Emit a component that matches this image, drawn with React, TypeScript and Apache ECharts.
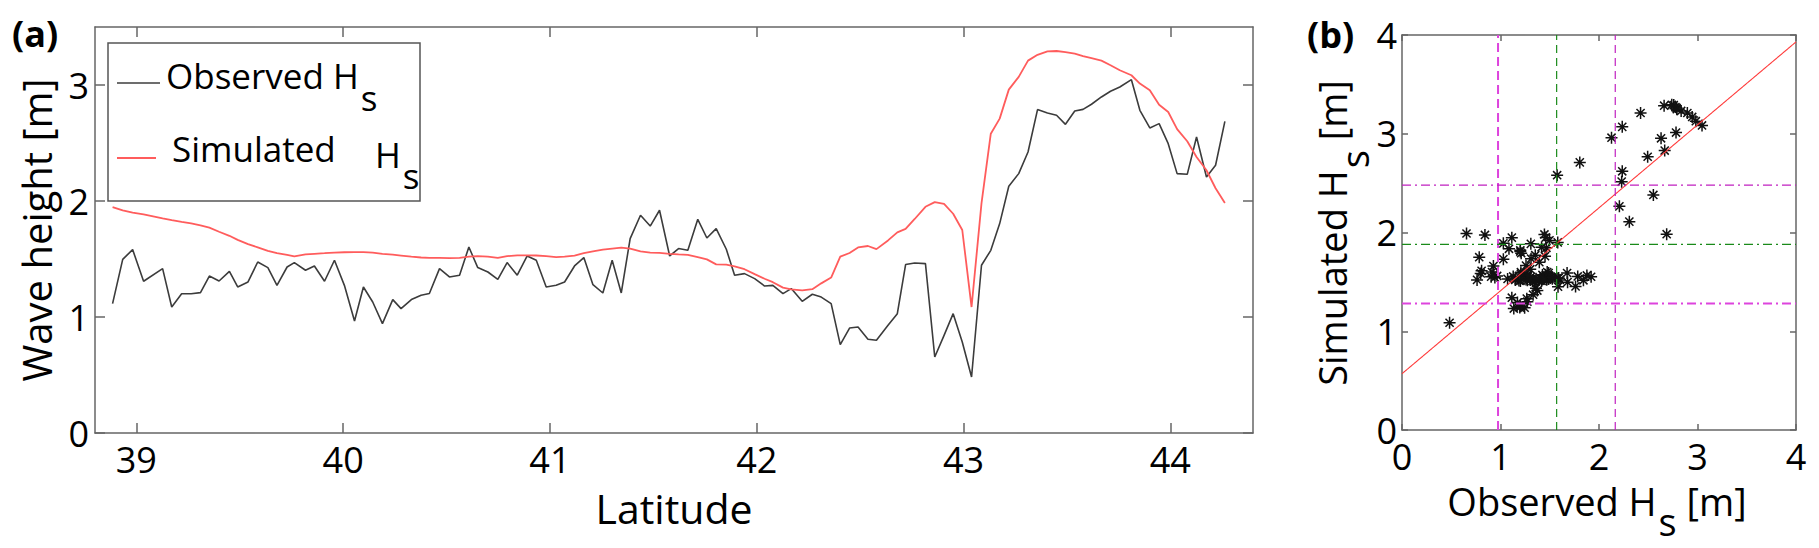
import React, { useEffect, useRef } from 'react';
import * as echarts from 'echarts';

// ---- data ----
const LATITUDE = [
  38.885, 38.934, 38.982, 39.035, 39.127, 39.171, 39.219, 39.265, 39.31, 39.353, 39.4, 39.45, 39.49, 39.54, 39.587, 39.636, 39.68, 39.729, 39.764,
  39.818, 39.861, 39.91, 39.958, 40.006, 40.055, 40.098, 40.143, 40.19, 40.24, 40.28, 40.33, 40.377, 40.417, 40.466, 40.514, 40.563, 40.608, 40.651, 40.7,
  40.748, 40.793, 40.842, 40.89, 40.934, 40.982, 41.03, 41.071, 41.119, 41.164, 41.208, 41.256, 41.301, 41.345, 41.388, 41.438, 41.485, 41.53, 41.579, 41.622,
  41.667, 41.715, 41.759, 41.804, 41.853, 41.893, 41.941, 41.99, 42.038, 42.078, 42.127, 42.167, 42.22, 42.269, 42.312, 42.36, 42.404, 42.449, 42.49, 42.538, 42.579,
  42.635, 42.68, 42.72, 42.764, 42.816, 42.861, 42.906, 42.95, 42.994, 43.039, 43.087, 43.132, 43.175, 43.219, 43.267, 43.312, 43.358, 43.406, 43.45, 43.493, 43.538,
  43.578, 43.619, 43.667, 43.711, 43.756, 43.812, 43.853, 43.901, 43.946, 43.99, 44.033, 44.082, 44.127, 44.175, 44.219, 44.264,
];

const OBSERVED_HS = [
  1.115, 1.497, 1.581, 1.308, 1.417, 1.086, 1.201, 1.201, 1.21, 1.353, 1.31, 1.394, 1.259, 1.302, 1.474, 1.426, 1.273, 1.431, 1.469,
  1.403, 1.44, 1.308, 1.489, 1.273, 0.966, 1.259, 1.129, 0.943, 1.15, 1.072, 1.15, 1.187, 1.202, 1.417, 1.345, 1.36, 1.603, 1.426, 1.388,
  1.325, 1.469, 1.36, 1.526, 1.489, 1.259, 1.273, 1.302, 1.44, 1.512, 1.279, 1.207, 1.489, 1.207, 1.676, 1.877, 1.784, 1.92, 1.526, 1.59,
  1.575, 1.842, 1.681, 1.762, 1.584, 1.36, 1.374, 1.331, 1.267, 1.273, 1.202, 1.245, 1.135, 1.196, 1.172, 1.115, 0.762, 0.905, 0.914, 0.808, 0.799,
  0.928, 1.029, 1.452, 1.466, 1.46, 0.655, 0.842, 1.029, 0.784, 0.483, 1.446, 1.575, 1.805, 2.127, 2.236, 2.422, 2.788, 2.759, 2.739, 2.661, 2.776,
  2.79, 2.834, 2.897, 2.946, 2.983, 3.046, 2.782, 2.63, 2.667, 2.494, 2.236, 2.23, 2.552, 2.207, 2.308, 2.687,
];

const SIMULATED_HS = [
  1.948, 1.92, 1.9, 1.885, 1.85, 1.835, 1.82, 1.807, 1.79, 1.77, 1.735, 1.7, 1.665, 1.628, 1.6, 1.57, 1.55, 1.535, 1.523,
  1.54, 1.545, 1.55, 1.555, 1.558, 1.56, 1.56, 1.555, 1.545, 1.538, 1.53, 1.52, 1.513, 1.51, 1.509, 1.508, 1.51, 1.52, 1.525, 1.52,
  1.51, 1.525, 1.532, 1.532, 1.53, 1.525, 1.517, 1.52, 1.53, 1.55, 1.565, 1.58, 1.59, 1.598, 1.59, 1.565, 1.555, 1.552, 1.545, 1.54,
  1.535, 1.516, 1.497, 1.454, 1.451, 1.436, 1.412, 1.37, 1.33, 1.3, 1.253, 1.238, 1.23, 1.24, 1.29, 1.34, 1.52, 1.552, 1.6, 1.612, 1.585,
  1.66, 1.73, 1.76, 1.845, 1.95, 1.99, 1.975, 1.89, 1.75, 1.086, 1.98, 2.58, 2.71, 2.96, 3.07, 3.21, 3.26, 3.29, 3.293, 3.284, 3.27,
  3.248, 3.231, 3.21, 3.17, 3.127, 3.084, 3.012, 2.954, 2.83, 2.767, 2.62, 2.515, 2.38, 2.265, 2.11, 1.983,
];

const LAT_TICKS = [39, 40, 41, 42, 43, 44];
const HEIGHT_TICKS = [0, 1, 2, 3];
const SCATTER_TICKS = [0, 1, 2, 3, 4];

const OBS_MEAN = 1.57;
const OBS_STD = 0.595;
const SIM_MEAN = 1.88;
const SIM_STD = 0.6;
const FIT_INTERCEPT = 0.57;
const FIT_SLOPE = 0.84;

// ---- styles ----
const FONT = '"Open Sans", "Noto Sans", sans-serif';
const AXIS_COLOR = '#666666';
const TICK_FS = 36;
const TITLE_FS = 38;
const LEGEND_FS = 35;
const ASTERISK = 'path://M5,0L5,10M0,5L10,5M1.6,1.6L8.4,8.4M1.6,8.4L8.4,1.6';

function measure(text: string, size: number, weight = 'normal'): number {
  const c = document.createElement('canvas');
  const ctx = c.getContext('2d');
  if (!ctx) return text.length * size * 0.55;
  ctx.font = `${weight} ${size}px "Open Sans"`;
  return ctx.measureText(text).width;
}

function txtStyle(text: string, size: number, weight = 'normal') {
  return {
    text,
    fontSize: size,
    fontWeight: weight,
    fontFamily: FONT,
    fill: '#000',
    lineHeight: size,
    align: 'left',
    textAlign: 'left',
    verticalAlign: 'middle',
    textVerticalAlign: 'middle',
  };
}

function subLabel(o: {
  x: number; y: number; main: string; sub: string; rest?: string;
  size: number; anchor: 'center' | 'left'; rotation?: number; subDy: number;
}) {
  const wMain = measure(o.main, o.size);
  const wSub = measure(o.sub, o.size);
  const wRest = o.rest ? measure(o.rest, o.size) : 0;
  const total = wMain + 2 + wSub + wRest;
  const x0 = o.anchor === 'center' ? -total / 2 : 0;
  const children: any[] = [
    { type: 'text', z: 100, x: x0, y: 0, style: txtStyle(o.main, o.size) },
    { type: 'text', z: 100, x: x0 + wMain + 2, y: o.subDy, style: txtStyle(o.sub, o.size) },
  ];
  if (o.rest) {
    children.push({ type: 'text', z: 100, x: x0 + wMain + 2 + wSub, y: 0, style: txtStyle(o.rest, o.size) });
  }
  return { type: 'group', x: o.x, y: o.y, rotation: o.rotation || 0, children, z: 100 };
}

function boxAxis(base: any, extra: any) {
  return Object.assign(
    {
      type: 'value',
      splitLine: { show: false },
      axisLine: { show: true, onZero: false, lineStyle: { color: AXIS_COLOR, width: 1.5 } },
    },
    base,
    extra
  );
}

export default function App() {
  const ref = useRef<HTMLDivElement>(null);

  useEffect(() => {
    document.body.style.margin = '0';
    if (!ref.current) return;
    const chart = echarts.init(ref.current, undefined, { renderer: 'svg' });

    const lineData = LATITUDE.map((lat, i) => [lat, OBSERVED_HS[i]]);
    const simData = LATITUDE.map((lat, i) => [lat, SIMULATED_HS[i]]);
    const scatterData = OBSERVED_HS.map((o, i) => [o, SIMULATED_HS[i]]);

    const tickLabel = { fontSize: TICK_FS, fontFamily: FONT, color: '#000', lineHeight: TICK_FS };
    const tickA = { show: true, inside: true, length: 10, lineStyle: { color: AXIS_COLOR, width: 1.5 } };
    const tickB = { show: true, inside: true, length: 6, lineStyle: { color: AXIS_COLOR, width: 1.5 } };

    const refLine = (pts: number[][], color: string, width: number, dash: number[]) => ({
      type: 'line',
      xAxisIndex: 2,
      yAxisIndex: 2,
      data: pts,
      symbol: 'none',
      silent: true,
      lineStyle: { color, width, type: dash },
      z: 4,
    });

    const option: any = {
      animation: false,
      backgroundColor: '#ffffff',
      grid: [
        { left: 95, top: 27, width: 1158, height: 406 },
        { left: 1402, top: 35, width: 394, height: 395 },
      ],
      xAxis: [
        boxAxis({ gridIndex: 0, min: 38.8, max: 44.4, position: 'bottom' }, {
          axisTick: { ...tickA, customValues: LAT_TICKS },
          axisLabel: { ...tickLabel, customValues: LAT_TICKS, margin: 8 },
        }),
        boxAxis({ gridIndex: 0, min: 38.8, max: 44.4, position: 'top' }, {
          axisTick: { ...tickA, customValues: LAT_TICKS },
          axisLabel: { show: false },
        }),
        boxAxis({ gridIndex: 1, min: 0, max: 4, interval: 1, position: 'bottom' }, {
          axisTick: { ...tickB, customValues: SCATTER_TICKS },
          axisLabel: { ...tickLabel, customValues: SCATTER_TICKS, margin: 8 },
        }),
        boxAxis({ gridIndex: 1, min: 0, max: 4, interval: 1, position: 'top' }, {
          axisTick: { ...tickB, customValues: SCATTER_TICKS },
          axisLabel: { show: false },
        }),
      ],
      yAxis: [
        boxAxis({ gridIndex: 0, min: 0, max: 3.5, position: 'left' }, {
          axisTick: { ...tickA, customValues: HEIGHT_TICKS },
          axisLabel: { ...tickLabel, customValues: HEIGHT_TICKS, margin: 6 },
        }),
        boxAxis({ gridIndex: 0, min: 0, max: 3.5, position: 'right' }, {
          axisTick: { ...tickA, customValues: HEIGHT_TICKS },
          axisLabel: { show: false },
        }),
        boxAxis({ gridIndex: 1, min: 0, max: 4, interval: 1, position: 'left' }, {
          axisTick: { ...tickB, customValues: SCATTER_TICKS },
          axisLabel: { ...tickLabel, customValues: SCATTER_TICKS, margin: 5 },
        }),
        boxAxis({ gridIndex: 1, min: 0, max: 4, interval: 1, position: 'right' }, {
          axisTick: { ...tickB, customValues: SCATTER_TICKS },
          axisLabel: { show: false },
        }),
      ],
      series: [
        {
          type: 'line', name: 'Observed Hs', xAxisIndex: 0, yAxisIndex: 0, data: lineData,
          symbol: 'none', showSymbol: false, lineStyle: { color: '#3c3c3c', width: 1.6 }, z: 3,
        },
        {
          type: 'line', name: 'Simulated Hs', xAxisIndex: 0, yAxisIndex: 0, data: simData,
          symbol: 'none', showSymbol: false, lineStyle: { color: '#ff5c5c', width: 1.8 }, z: 3,
        },
        {
          type: 'scatter', name: 'pairs', xAxisIndex: 2, yAxisIndex: 2, data: scatterData,
          symbol: ASTERISK, symbolSize: 12,
          itemStyle: { color: '#111', borderColor: '#111', borderWidth: 1.5, opacity: 1 }, z: 3,
        },
        refLine([[0, FIT_INTERCEPT], [4, FIT_INTERCEPT + 4 * FIT_SLOPE]], '#ff3a3a', 1.1, [1, 0]),
        refLine([[OBS_MEAN - OBS_STD, 0], [OBS_MEAN - OBS_STD, 4]], '#dd44dd', 2, [9, 5]),
        refLine([[OBS_MEAN, 0], [OBS_MEAN, 4]], '#1a8a1a', 1.2, [8, 5]),
        refLine([[OBS_MEAN + OBS_STD, 0], [OBS_MEAN + OBS_STD, 4]], '#c020c0', 1.2, [8, 5]),
        refLine([[0, SIM_MEAN + SIM_STD], [4, SIM_MEAN + SIM_STD]], '#c020c0', 1.2, [9, 4, 2, 4]),
        refLine([[0, SIM_MEAN], [4, SIM_MEAN]], '#1a8a1a', 1.2, [9, 4, 2, 4]),
        refLine([[0, SIM_MEAN - SIM_STD], [4, SIM_MEAN - SIM_STD]], '#dd44dd', 2, [9, 4, 2, 4]),
      ],
      graphic: [
        // panel labels
        { type: 'text', x: 12, y: 33, z: 100, style: txtStyle('(a)', 36, 'bold') },
        { type: 'text', x: 1307, y: 34, z: 100, style: txtStyle('(b)', 36, 'bold') },
        // axis titles
        {
          type: 'text', x: 674, y: 508, z: 100,
          style: { ...txtStyle('Latitude', 41), align: 'center', textAlign: 'center' },
        },
        {
          type: 'text', x: 36, y: 230, rotation: Math.PI / 2, z: 100,
          style: { ...txtStyle('Wave height [m]', 40), align: 'center', textAlign: 'center' },
        },
        subLabel({ x: 1597, y: 501, main: 'Observed H', sub: 's', rest: ' [m]', size: TITLE_FS, anchor: 'center', subDy: 20 }),
        subLabel({ x: 1332, y: 233, main: 'Simulated H', sub: 's', rest: ' [m]', size: TITLE_FS, anchor: 'center', subDy: 22, rotation: Math.PI / 2 }),
        // legend
        {
          type: 'rect', z: 90,
          shape: { x: 108, y: 43, width: 312, height: 158 },
          style: { fill: '#ffffff', stroke: '#555555', lineWidth: 1.5 },
        },
        { type: 'line', z: 95, shape: { x1: 117, y1: 83, x2: 160, y2: 83 }, style: { stroke: '#3c3c3c', lineWidth: 1.6 } },
        { type: 'line', z: 95, shape: { x1: 117, y1: 158, x2: 156, y2: 158 }, style: { stroke: '#ff5c5c', lineWidth: 1.8 } },
        subLabel({ x: 166, y: 75, main: 'Observed H', sub: 's', size: LEGEND_FS, anchor: 'left', subDy: 22 }),
        { type: 'text', x: 172, y: 148.5, z: 100, style: txtStyle('Simulated', LEGEND_FS) },
        subLabel({ x: 375, y: 154.5, main: 'H', sub: 's', size: LEGEND_FS, anchor: 'left', subDy: 21 }),
      ],
    };

    chart.setOption(option);
    return () => {
      chart.dispose();
    };
  }, []);

  return <div ref={ref} style={{ width: 1819, height: 548 }} />;
}
